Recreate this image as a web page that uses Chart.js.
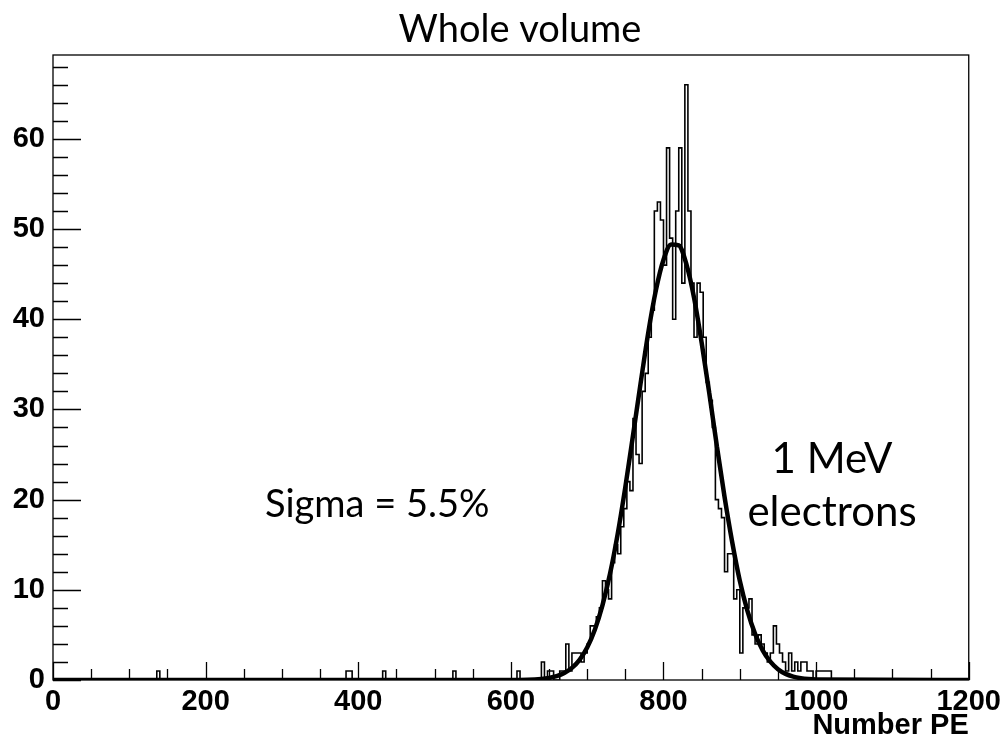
<!DOCTYPE html>
<html>
<head>
<meta charset="utf-8">
<title>Whole volume</title>
<script src="https://cdn.jsdelivr.net/npm/chart.js@4.4.1/dist/chart.umd.min.js"></script>
<style>
    html, body { margin: 0; padding: 0; background: #fff; }
    #wrap { width: 1006px; height: 743px; position: relative; }
</style>
</head>
<body>
<div id="wrap"><canvas id="pe-hist"></canvas></div>
<script>
// histogram: 300 bins of 4 PE from 0 to 1200
const binWidth = 4;
const nBins = 300;

// counts for the bins starting at 640 PE (low edges 640, 644, ... 1020)
const peakStart = 640;
const peakCounts = [
    2, 0, 1, 1, 0, 0, 1, 1, 4, 1,
    3, 3, 3, 2, 3, 4, 6, 6, 7, 8,
    11, 10, 9, 13, 15, 14, 17, 19, 22, 21,
    29, 25, 24, 32, 34, 38, 41, 52, 53, 51,
    46, 59, 49, 40, 52, 59, 44, 66, 52, 44,
    38, 44, 43, 38, 33, 31, 28, 20, 19, 18,
    12, 14, 14, 9, 10, 3, 8, 8, 9, 5,
    4, 5, 4, 3, 2, 3, 6, 4, 3, 2,
    1, 3, 1, 2, 1, 2, 2, 1, 1, 0,
    1, 1, 1, 1, 1, 0
];

// isolated single entries far below the peak
const strayBins = [136, 384, 388, 432, 524, 608];
const strayCounts = [1, 1, 1, 1, 1, 1];

// gaussian fit
const fitX = [0, 600, 640, 650, 660, 670, 680, 690, 700, 710, 720, 730, 740, 750, 760, 770, 780, 790,
    800, 810, 820, 830, 840, 850, 860, 870, 880, 890, 900, 910, 920, 930, 940, 950, 960, 970, 980, 990, 1000, 1200];
const fitY = [0, 0, 0.11, 0.22, 0.42, 0.77, 1.34, 2.24, 3.6, 5.58, 8.28, 11.8, 16.2, 21.4, 27.1, 32.9, 38.5, 43.2,
    46.6, 48.3, 48.2, 46.1, 42.4, 37.4, 31.8, 25.9, 20.3, 15.3, 11.0, 7.67, 5.13, 3.29, 2.03, 1.2, 0.68, 0.37, 0.2, 0.1, 0.05, 0];

const xTickValues = [0, 200, 400, 600, 800, 1000, 1200];
const yTickValues = [0, 10, 20, 30, 40, 50, 60];
const xMax = 1200;
const yMax = 69.3;

const chartTitle = 'Whole volume';
const xTitle = 'Number PE';
const noteSigma = 'Sigma = 5.5%';
const noteSource = ['1 MeV', 'electrons'];

// build the full bin list
const counts = new Array(nBins).fill(0);
peakCounts.forEach((c, i) => { counts[peakStart / binWidth + i] = c; });
strayBins.forEach((b, i) => { counts[b / binWidth] = strayCounts[i]; });

const histPoints = counts.map((c, i) => ({ x: i * binWidth, y: c }));
histPoints.push({ x: nBins * binWidth, y: 0 });

const fitPoints = fitX.map((x, i) => ({ x, y: fitY[i] }));

const boldFamily = 'Liberation Sans, Arial, sans-serif';
const tickFont = { family: boldFamily, size: 29, weight: 'bold' };
const labelFamily = 'Lato, Calibri, sans-serif';

// ROOT style frame with inward ticks, plus the text annotations
const rootFrame = {
    id: 'rootFrame',
    afterDraw(chart) {
        const { ctx, chartArea: a, scales: { x, y } } = chart;
        ctx.save();
        ctx.strokeStyle = '#000';
        ctx.lineWidth = 1.3;
        ctx.strokeRect(a.left, a.top, a.right - a.left, a.bottom - a.top);

        ctx.lineWidth = 1.3;
        ctx.beginPath();
        for (let v = 0; v <= xMax; v += 50) {
            const px = Math.round(x.getPixelForValue(v)) + 0.5;
            const len = v % 200 === 0 ? 18 : 11;
            ctx.moveTo(px, a.bottom);
            ctx.lineTo(px, a.bottom - len);
        }
        for (let v = 0; v <= yMax; v += 2) {
            const py = Math.round(y.getPixelForValue(v)) + 0.5;
            const len = v % 10 === 0 ? 28 : 15;
            ctx.moveTo(a.left, py);
            ctx.lineTo(a.left + len, py);
        }
        ctx.stroke();

        ctx.fillStyle = '#000';
        ctx.font = `38px ${labelFamily}`;
        ctx.textAlign = 'center';
        ctx.textBaseline = 'alphabetic';
        ctx.fillText(chartTitle, 520, 42);

        ctx.textAlign = 'left';
        ctx.fillText(noteSigma, 265, 517);

        ctx.font = `42px ${labelFamily}`;
        ctx.textAlign = 'center';
        ctx.fillText(noteSource[0], 832, 473);
        ctx.fillText(noteSource[1], 832, 526);
        ctx.restore();
    }
};

new Chart(document.getElementById('pe-hist'), {
    type: 'line',
    data: {
        datasets: [
            {
                label: 'fit',
                data: fitPoints,
                borderColor: '#000',
                borderWidth: 4.5,
                pointRadius: 0,
                cubicInterpolationMode: 'monotone',
                fill: false,
                order: 0
            },
            {
                label: 'hist',
                data: histPoints,
                borderColor: '#000',
                borderWidth: 1.6,
                pointRadius: 0,
                stepped: true,
                fill: false,
                order: 1
            }
        ]
    },
    options: {
        responsive: true,
        maintainAspectRatio: false,
        animation: false,
        layout: { padding: { top: 55, right: 34, left: 0, bottom: 0 } },
        plugins: {
            legend: { display: false },
            tooltip: { enabled: false },
            title: { display: false }
        },
        scales: {
            x: {
                type: 'linear',
                min: 0,
                max: xMax,
                grid: { display: false, drawTicks: false },
                border: { display: false },
                afterBuildTicks: s => { s.ticks = xTickValues.map(v => ({ value: v })); },
                afterFit: s => { s.height = 63; },
                ticks: {
                    color: '#000',
                    font: tickFont,
                    padding: 5,
                    maxRotation: 0,
                    autoSkip: false,
                    callback: v => String(v)
                },
                title: {
                    display: true,
                    text: xTitle,
                    align: 'end',
                    color: '#000',
                    font: { family: boldFamily, size: 29, weight: 'bold' },
                    padding: { top: 0, bottom: 0 }
                }
            },
            y: {
                min: 0,
                max: yMax,
                grid: { display: false, drawTicks: false },
                border: { display: false },
                afterBuildTicks: s => { s.ticks = yTickValues.map(v => ({ value: v })); },
                afterFit: s => { s.width = 53; },
                ticks: { color: '#000', font: tickFont, padding: 8, autoSkip: false, callback: v => String(v) }
            }
        }
    },
    plugins: [rootFrame]
});
</script>
</body>
</html>
